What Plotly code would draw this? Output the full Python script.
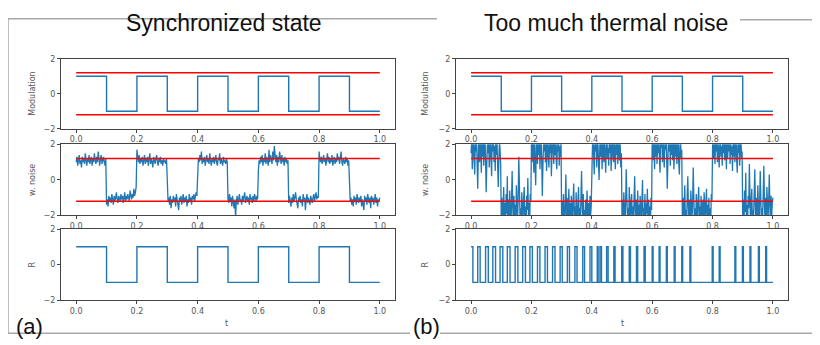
import plotly.graph_objects as go

# ---------------- data ----------------
# square-wave modulation: switching times and level held after each time
mod_t = [0.0, 0.1, 0.2, 0.3, 0.4, 0.5, 0.6, 0.7, 0.8, 0.9, 1.0]
mod_v = [1, -1, 1, -1, 1, -1, 1, -1, 1, -1, -1]

# threshold (red) levels
thr_t = [0.0, 1.0]
thr_hi = [1.2, 1.2]
thr_lo = [-1.2, -1.2]

# (a) signal with weak noise: one list of samples per 0.1-long half period
noise_a_segments = [
    [1.0, 1.3, 0.8, 1.2, 1.4, 0.9, 1.1, 0.7, 1.3, 1.0, 1.2, 0.9, 1.5, 1.1, 0.8, 1.2, 1.0, 1.4, 0.9, 1.1,
     1.3, 0.8, 1.2, 1.0, 1.5, 1.1, 0.9, 1.3, 1.0, 1.6, 1.1, 0.8, 1.2, 1.4, 0.9, 1.1, 1.3, 1.0, 0.8, 1.2],
    [-1.4, -1.1, -1.5, -0.9, -1.2, -1.0, -1.3, -0.8, -1.1, -1.4, -0.9, -1.2, -1.0, -0.7, -1.1, -1.3, -0.9, -1.0, -1.2, -0.8,
     -1.1, -0.9, -1.3, -1.0, -0.7, -1.2, -0.9, -1.1, -0.8, -1.0, -1.2, -0.6, -0.9, -1.1, -0.8, -1.0, -0.5, -0.9, -0.7, -0.4],
    [1.7, 1.2, 1.0, 1.4, 0.9, 1.2, 1.0, 1.3, 0.8, 1.1, 1.4, 0.9, 1.2, 1.0, 1.3, 0.8, 1.1, 1.5, 0.9, 1.2,
     1.0, 0.7, 1.3, 1.1, 0.9, 1.2, 1.4, 1.0, 0.8, 1.2, 1.0, 1.3, 0.9, 1.1, 0.8, 1.2, 1.0, 1.1, 0.9, 1.2],
    [-0.7, -1.2, -1.0, -1.4, -0.9, -1.6, -1.1, -1.3, -0.9, -1.2, -1.0, -1.5, -0.8, -1.1, -1.3, -1.7, -1.0, -1.2, -0.9, -1.4,
     -1.1, -0.8, -1.3, -1.0, -1.2, -0.9, -1.5, -1.1, -1.3, -0.8, -1.2, -1.0, -1.4, -0.9, -1.1, -0.8, -1.2, -1.0, -0.7, -0.9],
    [0.8, 1.2, 1.0, 1.4, 1.1, 1.6, 0.9, 1.2, 1.0, 1.3, 0.8, 1.1, 1.4, 1.0, 1.2, 0.9, 1.5, 1.1, 0.8, 1.2,
     1.0, 1.3, 0.9, 1.1, 1.4, 1.0, 0.8, 1.2, 1.1, 1.5, 0.9, 1.2, 1.0, 0.8, 1.3, 1.0, 1.1, 0.9, 1.2, 1.0],
    [-1.1, -1.3, -0.8, -1.2, -1.0, -1.5, -0.9, -1.3, -1.6, -1.1, -2.1, -1.2, -0.9, -1.4, -1.0, -0.8, -1.2, -1.1, -1.4, -0.9,
     -1.2, -1.0, -0.7, -1.3, -1.1, -0.9, -1.2, -1.0, -1.4, -0.8, -1.1, -1.0, -1.3, -0.9, -1.2, -0.8, -1.0, -1.2, -0.9, -1.1],
    [0.5, 1.1, 0.9, 1.3, 1.0, 1.4, 0.8, 1.2, 1.0, 1.5, 0.9, 1.3, 1.1, 0.8, 1.7, 1.0, 1.4, 1.2, 0.9, 1.6,
     1.1, 1.9, 1.2, 1.0, 1.4, 0.8, 1.3, 1.0, 1.6, 1.1, 0.9, 1.4, 1.0, 1.2, 0.8, 1.3, 1.0, 1.2, 0.9, 1.1],
    [-1.3, -0.9, -1.2, -1.5, -1.0, -1.3, -0.8, -1.2, -1.0, -0.7, -1.1, -1.4, -1.6, -1.0, -1.2, -0.9, -1.3, -1.1, -1.5, -0.8,
     -1.2, -1.0, -1.7, -1.1, -0.8, -1.3, -1.0, -1.2, -1.4, -0.9, -1.1, -1.3, -1.0, -0.8, -1.2, -1.0, -0.7, -1.1, -0.9, -1.0],
    [1.6, 1.2, 1.0, 1.3, 0.9, 1.1, 1.4, 1.0, 1.2, 0.8, 1.1, 1.5, 1.0, 1.3, 0.9, 1.2, 1.0, 1.4, 0.8, 1.1,
     1.3, 0.9, 1.2, 1.0, 1.5, 1.1, 1.3, 0.9, 1.2, 1.6, 1.0, 0.8, 1.2, 1.1, 0.9, 1.3, 1.0, 1.2, 0.8, 1.1],
    [-0.8, -1.2, -1.0, -1.4, -1.1, -1.5, -0.9, -1.2, -1.0, -1.4, -0.8, -1.1, -1.3, -1.0, -1.2, -0.9, -1.5, -1.1, -1.3, -1.7,
     -0.9, -1.2, -1.0, -1.4, -0.8, -1.1, -1.3, -1.0, -1.6, -0.9, -1.2, -1.0, -1.4, -1.1, -0.8, -1.3, -1.0, -1.5, -1.1, -1.2],
]
noise_a_last = -1.0

# (b) signal with too much thermal noise: one list of samples per half period
noise_b_segments = [
    [1.5, 2.3, 0.6, 1.9, 2.8, 1.2, 0.3, 2.1, 1.6, 2.6, 0.9, -0.5, 1.4, 2.4, 1.0, 2.9, 1.7, 0.4, 2.2, 1.3, 2.7, 0.8, 1.9, 2.5, 1.1,
     -0.7, 0.9, 2.0, 1.5, 2.6, 0.7, 1.8, 2.3, 1.2, 0.2, 2.5, 1.6, 2.9, 1.0, 1.9, 0.5, 2.4, 1.4, 2.1, 0.8, -0.4, 1.1, 2.2, 1.7, 0.9],
    [-2.3, -1.0, -2.7, -1.6, -0.4, -2.1, -1.3, -2.5, -0.8, -1.9, 0.2, -2.6, -1.1, -2.2, -0.6, -1.7, -2.8, -1.2, 0.5, -1.5, -2.4, -0.9, -2.0, -1.4, -2.7,
     -0.3, -1.8, -2.3, -1.0, 1.3, -0.2, -2.1, -1.6, -2.6, -0.7, -1.9, -2.4, -1.1, -0.4, -2.2, -1.5, -2.8, -0.9, -1.7, 0.1, -2.0, -1.3, -2.5, -0.8, -1.2],
    [2.1, 1.0, 2.6, 1.5, 0.4, 2.3, 1.2, -0.3, 1.8, 2.7, 0.9, 2.2, 1.4, 2.9, 0.6, 1.7, 2.4, 1.1, -0.9, 0.8, 2.0, 1.6, 2.8, 1.0, 2.3,
     0.5, 1.9, 2.6, 1.3, 0.7, 2.1, 1.5, 2.5, 0.2, 1.2, 2.7, 1.8, 0.9, 2.2, 1.4, 2.9, 1.1, 0.6, 2.0, 1.6, 2.4, 0.8, 1.9, 1.3, 2.2],
    [-2.4, -1.2, -2.8, -0.8, -1.9, -2.5, -1.4, 0.3, -2.1, -1.0, -2.7, -1.6, -0.5, -2.3, -1.3, -2.9, -0.9, -1.8, -2.4, -1.1, -0.2, -2.0, -1.5, -2.6, -0.7,
     -1.9, -2.8, -1.2, -0.4, -2.2, -1.6, -2.5, -1.0, 0.5, -1.4, -2.3, -0.8, -2.7, -1.7, -2.1, -1.1, -2.6, -0.6, -1.8, -2.4, -1.3, -2.9, -0.9, -2.0, -1.5],
    [0.9, 1.8, 2.5, 1.2, 0.3, 2.2, 1.6, 2.8, 0.7, 1.9, 2.4, 1.1, 0.0, 1.5, 2.6, 1.3, 2.1, 0.6, 1.7, 2.9, 1.0, 2.3, 1.4, 0.4, 2.0,
     2.7, 1.2, 1.8, 0.8, 2.5, 1.5, 2.2, 0.5, 1.9, 2.8, 1.3, 1.0, 2.4, 1.7, 0.6, 2.1, 1.4, 2.6, 0.9, 1.6, 2.3, 1.1, 2.0, 0.7, 1.5],
    [-2.2, -1.1, -2.6, -0.7, -1.8, -2.4, -1.3, 0.6, -1.0, -2.1, -1.6, -2.8, -0.4, -1.9, -2.5, -1.2, -0.8, -2.3, -1.5, -2.7, -1.0, 0.2, -1.7, -2.4, -1.1,
     -2.9, -0.6, -2.0, -1.4, -2.6, -0.9, -1.8, -2.2, -1.2, 0.0, -2.5, -1.6, -2.1, -0.8, -2.7, -1.3, -1.9, -0.5, -2.4, -1.1, -2.0, -1.5, -2.6, -1.0, -1.7],
    [2.3, 1.1, 2.7, 1.6, 0.6, 2.4, 1.3, 2.9, 0.9, 2.0, 1.5, 2.6, 1.2, 0.4, 2.2, 1.8, 2.8, 1.0, 2.5, 1.4, 0.7, 2.1, 1.7, 2.9, 1.2,
     -0.5, 1.0, 2.4, 1.6, 2.7, 0.8, 2.0, 1.4, 2.5, 1.1, 2.2, 0.6, 1.8, 2.6, 1.3, 2.1, 0.9, 1.5, 2.4, 1.0, 0.3, 1.9, 2.3, 1.2, 1.7],
    [-2.1, -1.0, -2.6, -1.4, -0.3, -2.3, -1.7, -2.8, -0.9, 0.2, -1.5, -2.4, -1.1, -2.7, -0.6, -1.9, -2.2, -1.3, 0.7, -1.0, -2.5, -1.6, -2.9, -0.8, -1.8,
     -2.3, -1.2, -0.4, -2.0, -1.5, -2.6, -0.9, -1.7, -2.4, -1.1, -2.8, -0.7, -1.9, -2.2, -1.3, -0.5, -2.5, -1.4, -2.0, -1.0, -2.7, -1.6, -2.3, -0.8, -1.2],
    [1.8, 2.5, 1.2, 2.8, 0.9, 2.1, 1.6, 2.6, 1.0, 2.3, 1.4, 0.7, 2.0, 2.7, 1.3, 1.9, 0.8, 2.4, 1.5, 2.9, 1.1, 2.2, 1.7, 0.6, 2.5,
     1.2, 2.0, 1.6, 2.8, 0.9, 2.3, 1.4, 1.9, 0.5, 2.1, 1.3, 2.6, 1.0, 1.7, 2.4, 1.1, 0.4, 2.0, 1.5, 2.2, 0.8, 1.8, 2.5, 1.2, 1.6],
    [-2.3, -1.1, -2.7, -0.6, -1.8, 0.4, -2.2, -1.4, -2.6, -0.9, -1.6, 0.9, -2.0, -2.8, -1.2, -0.5, -2.4, -1.7, -2.1, -0.8, 0.6, -1.5, -2.6, -1.0, -2.3,
     -0.3, -1.9, -2.7, -1.3, 0.5, -1.1, -2.5, -1.6, -2.0, -0.7, 0.8, -1.4, -2.4, -1.0, -2.8, -0.4, -1.8, -2.2, -1.2, 0.3, -1.5, -2.6, -0.9, -2.0, -1.3],
]
noise_b_last = -1.0

# (b) response R: spike start times and widths
spike_start = [0.0, 0.022, 0.048, 0.072, 0.096, 0.120, 0.146, 0.171, 0.195, 0.220,
               0.245, 0.270, 0.295, 0.319, 0.344, 0.370, 0.394, 0.418, 0.427, 0.449,
               0.473, 0.499, 0.524, 0.548, 0.573, 0.600, 0.623, 0.647, 0.673, 0.698,
               0.725, 0.799, 0.822, 0.874, 0.899, 0.924, 0.952, 0.976]
spike_width = [0.006, 0.008, 0.009, 0.009, 0.009, 0.009, 0.009, 0.009, 0.008, 0.008,
               0.008, 0.008, 0.007, 0.007, 0.007, 0.006, 0.006, 0.003, 0.005, 0.005,
               0.004, 0.004, 0.004, 0.004, 0.004, 0.003, 0.003, 0.003, 0.003, 0.003,
               0.003, 0.003, 0.003, 0.003, 0.003, 0.003, 0.003, 0.003]
r_low, r_high = -1, 1
half_period = 0.1

x_ticks = [0.0, 0.2, 0.4, 0.6, 0.8, 1.0]
x_ticklabels = ["0.0", "0.2", "0.4", "0.6", "0.8", "1.0"]
y_ticks = [-2, 0, 2]
y_ticklabels = ["\u22122", "0", "2"]

panel_titles = ["Synchronized state", "Too much thermal noise"]
panel_labels = ["(a)", "(b)"]
row_titles = ["Modulation", "w. noise", "R"]

# ---------------- figure ----------------
OFF = 8  # page body margin
W, H = 820 - OFF, 345 - OFF
BLUE = "#1f77b4"
RED = "#ff0000"
AX = "#444444"

def px(x):
    return (x - OFF) / W

def py(y):
    return 1 - (y - OFF) / H

def flatten(segments, last):
    ts, vs = [], []
    for k, seg in enumerate(segments):
        n = len(seg)
        for j, v in enumerate(seg):
            ts.append(k * half_period + j * half_period / n)
            vs.append(v)
    ts.append(len(segments) * half_period)
    vs.append(last)
    return ts, vs

col_x = [(61, 395), (456, 788)]
row_y = [(56, 128), (144, 217), (231, 304)]

fig = go.Figure()

# build (b) R step series from spike list
rb_t = []
rb_v = []
for s, w in zip(spike_start, spike_width):
    rb_t += [s, s + w]
    rb_v += [r_high, r_low]
rb_t.append(1.0)
rb_v.append(r_low)

ta, va = flatten(noise_a_segments, noise_a_last)
tb, vb = flatten(noise_b_segments, noise_b_last)

series = {
    (0, 0): [(mod_t, mod_v, "hv", 1.4)],
    (0, 1): [(ta, va, "linear", 1.3)],
    (0, 2): [(mod_t, mod_v, "hv", 1.4)],
    (1, 0): [(mod_t, mod_v, "hv", 1.4)],
    (1, 1): [(tb, vb, "linear", 1.3)],
    (1, 2): [(rb_t, rb_v, "hv", 1.4)],
}

layout_axes = {}
k = 0
for c in range(2):
    for r in range(3):
        k += 1
        xa = "x" if k == 1 else f"x{k}"
        ya = "y" if k == 1 else f"y{k}"
        for (xs, ys, shape, lw) in series[(c, r)]:
            fig.add_trace(go.Scatter(x=xs, y=ys, mode="lines", line=dict(color=BLUE, width=lw, shape=shape),
                                     xaxis=xa, yaxis=ya, showlegend=False, hoverinfo="skip"))
        if r < 2:
            for lv in (thr_hi, thr_lo):
                fig.add_trace(go.Scatter(x=thr_t, y=lv, mode="lines", line=dict(color=RED, width=1.5),
                                         xaxis=xa, yaxis=ya, showlegend=False, hoverinfo="skip"))
        x0, x1 = col_x[c]
        y0, y1 = row_y[r]
        common = dict(showline=True, mirror=True, linecolor=AX, linewidth=1, ticks="outside", ticklen=3,
                      tickwidth=1, tickcolor=AX, showgrid=False, zeroline=False,
                      tickfont=dict(family="DejaVu Sans", size=8, color="#555555"))
        layout_axes["xaxis" if k == 1 else f"xaxis{k}"] = dict(
            domain=[px(x0), px(x1)], anchor=ya, range=[-0.05, 1.05],
            tickvals=x_ticks, ticktext=x_ticklabels, **common)
        layout_axes["yaxis" if k == 1 else f"yaxis{k}"] = dict(
            domain=[py(y1), py(y0)], anchor=xa, range=[-2, 2],
            tickvals=y_ticks, ticktext=y_ticklabels, **common)

fig.update_layout(**layout_axes)

ann = []
# panel titles
for c, (cx) in enumerate([224, 606]):
    ann.append(dict(x=px(cx), y=py(19), xref="paper", yref="paper", text=panel_titles[c], showarrow=False,
                    font=dict(family="Liberation Sans", size=23, color="#111111"), xanchor="center", yanchor="middle"))
# panel labels
for c, cx in enumerate([14, 411]):
    ann.append(dict(x=px(cx), y=py(331), xref="paper", yref="paper", text=panel_labels[c], showarrow=False,
                    font=dict(family="Liberation Sans", size=22, color="#111111"), xanchor="left", yanchor="middle"))
# x titles
for cx in [227, 622]:
    ann.append(dict(x=px(cx), y=py(328), xref="paper", yref="paper", text="t", showarrow=False,
                    font=dict(family="DejaVu Sans", size=8, color="#555555"), xanchor="center", yanchor="middle"))
# y titles
for c, cx in enumerate([33, 426]):
    for r in range(3):
        y0, y1 = row_y[r]
        ann.append(dict(x=px(cx), y=py((y0 + y1) / 2), xref="paper", yref="paper", text=row_titles[r],
                        showarrow=False, textangle=-90,
                        font=dict(family="DejaVu Sans", size=8, color="#555555"), xanchor="center", yanchor="middle"))

shapes = []
BORDER = "#a8a8a8"
for (xa0, ya0, xa1, ya1) in [(8, 15, 437, 15), (740, 16, 820, 16), (8, 15, 8, 338),
                             (8, 338, 410, 338), (440, 338, 820, 338)]:
    shapes.append(dict(type="line", xref="paper", yref="paper", x0=px(xa0), y0=py(ya0), x1=px(xa1), y1=py(ya1),
                       line=dict(color=BORDER, width=1.5), layer="below"))

fig.update_layout(width=W, height=H, margin=dict(l=0, r=0, t=0, b=0),
                  paper_bgcolor="white", plot_bgcolor="white",
                  annotations=ann, shapes=shapes, showlegend=False)

fig.write_html("out.html")
